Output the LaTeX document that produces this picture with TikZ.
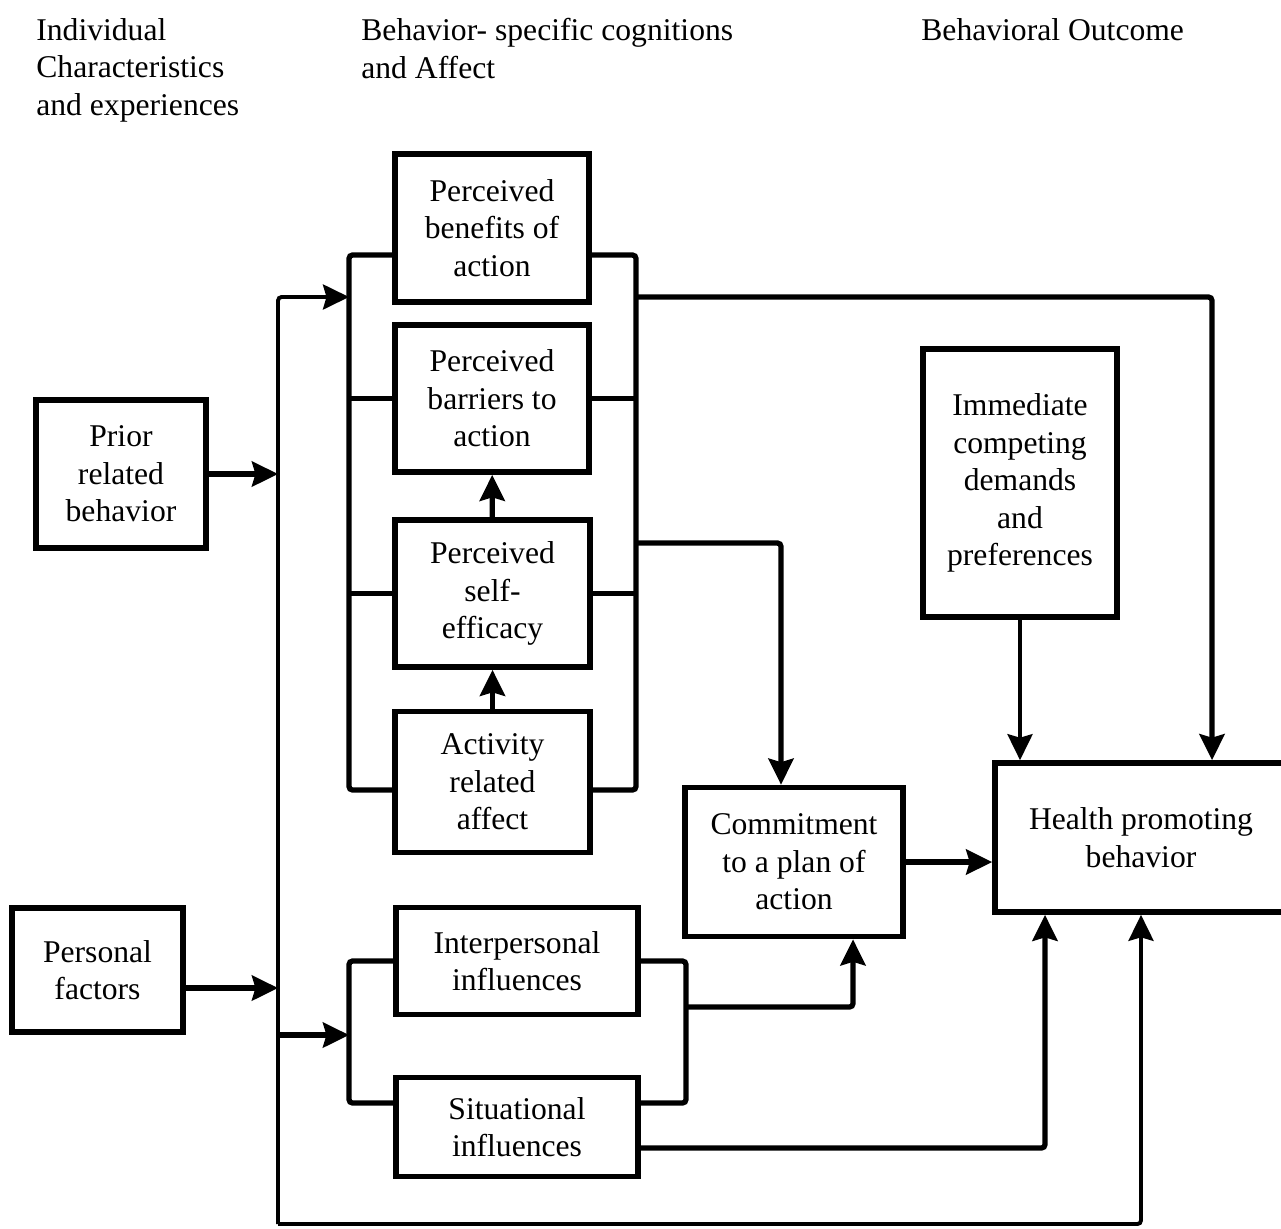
\documentclass[tikz,border=0pt]{standalone}
\usepackage{fontspec}
\setmainfont{Liberation Serif}
\usepackage{tikz}
\usetikzlibrary{arrows.meta}

\begin{document}
\begin{tikzpicture}[x=0.2mm, y=-0.2mm,
    box/.style={draw, line width=3.2pt, align=center, inner sep=0pt, font=\fontsize{18}{21.3}\selectfont},
    head/.style={anchor=north west, align=left, inner sep=0pt, font=\fontsize{18}{21.3}\selectfont},
    link/.style={line width=3pt, rounded corners=2pt},
    arr/.style={link, -{Stealth[length=5.2mm, width=5mm, inset=0.7mm]}},
    thin/.style={line width=2.2pt}]
    \useasboundingbox (0, 0) rectangle (1281, 1228);

    \node[head] (indiv) at (36, 18) {Individual\\Characteristics\\and experiences};
    \node[head] (cogn) at (361, 18) {Behavior- specific cognitions\\and Affect};
    \node[head] (outc) at (921, 18) {Behavioral Outcome};

    \node[box, minimum width=34mm, minimum height=29.6mm] (prior) at (121, 474) {Prior\\related\\behavior};
    \node[box, minimum width=34.2mm, minimum height=24.8mm] (personal) at (97.5, 970) {Personal\\factors};
    \node[box, minimum width=38.8mm, minimum height=29.6mm] (benefit) at (492, 228) {Perceived\\benefits of\\action};
    \node[box, minimum width=38.8mm, minimum height=29.4mm] (barrier) at (492, 398.5) {Perceived\\barriers to\\action};
    \node[box, minimum width=39mm, minimum height=29.4mm] (efficacy) at (492.5, 593.5) {Perceived\\self-\\efficacy};
    \node[box, minimum width=39mm, minimum height=28.2mm] (affect) at (492.5, 782) {Activity\\related\\affect};
    \node[box, minimum width=48.4mm, minimum height=21.4mm] (interp) at (517, 961) {Interpersonal\\influences};
    \node[box, minimum width=48.4mm, minimum height=19.8mm] (situ) at (517, 1127) {Situational\\influences};
    \node[box, minimum width=43.6mm, minimum height=29.8mm] (commit) at (794, 862) {Commitment\\to a plan of\\action};
    \node[box, minimum width=38.8mm, minimum height=53.6mm] (demand) at (1020, 483) {Immediate\\competing\\demands\\and\\preferences};
    \node[box, minimum width=58.4mm, minimum height=29.8mm] (health) at (1141, 837.5) {Health promoting\\behavior};

    \coordinate (bt) at (278, 297);
    \coordinate (bb) at (278, 1224);
    \coordinate (bl) at (278, 1035);
    \coordinate (bp) at (278, 988);
    \coordinate (lb) at (349, 255);
    \coordinate (rt) at (636, 255);
    \coordinate (rc) at (636, 543);
    \coordinate (rl) at (686, 1007);

    \draw[link] (benefit.west |- lb) -- (lb) |- ([yshift=-1.6mm]affect.west);
    \draw[link] (benefit.east |- rt) -- (rt) |- ([yshift=-1.6mm]affect.east);
    \draw[link] (barrier.west) -- (barrier.west -| lb);
    \draw[link] (barrier.east) -- (barrier.east -| rt);
    \draw[link] (efficacy.west) -- (efficacy.west -| lb);
    \draw[link] (efficacy.east) -- (efficacy.east -| rt);
    \draw[arr] (efficacy) -- (barrier);
    \draw[arr] (affect) -- (efficacy);

    \draw[arr, thin] (bb) -- (bt) -- (bt -| lb);
    \draw[arr, thin] (bb) -| (health.south);
    \draw[arr] (prior) -- (prior -| bt);
    \draw[arr] (personal.east |- bp) -- (bp);
    \draw[arr] (bl) -- (bl -| lb);

    \draw[link] (interp.west) -| (bl -| lb) |- ([yshift=4.8mm]situ.west);
    \draw[link] (interp.east) -| (rl) |- ([yshift=4.8mm]situ.east);
    \draw[arr] (rl) -| ([xshift=11.8mm]commit.south);
    \draw[arr] ([yshift=-4.2mm]situ.east) -| ([xshift=-19.2mm]health.south);

    \draw[arr] (rt |- bt) -| ([xshift=14.2mm]health.north);
    \draw[arr] (rc) -| ([xshift=-2.6mm]commit.north);
    \draw[arr, thin] (demand) -- (demand |- health.north);
    \draw[arr] (commit) -- (commit -| health.west);
\end{tikzpicture}
\end{document}
